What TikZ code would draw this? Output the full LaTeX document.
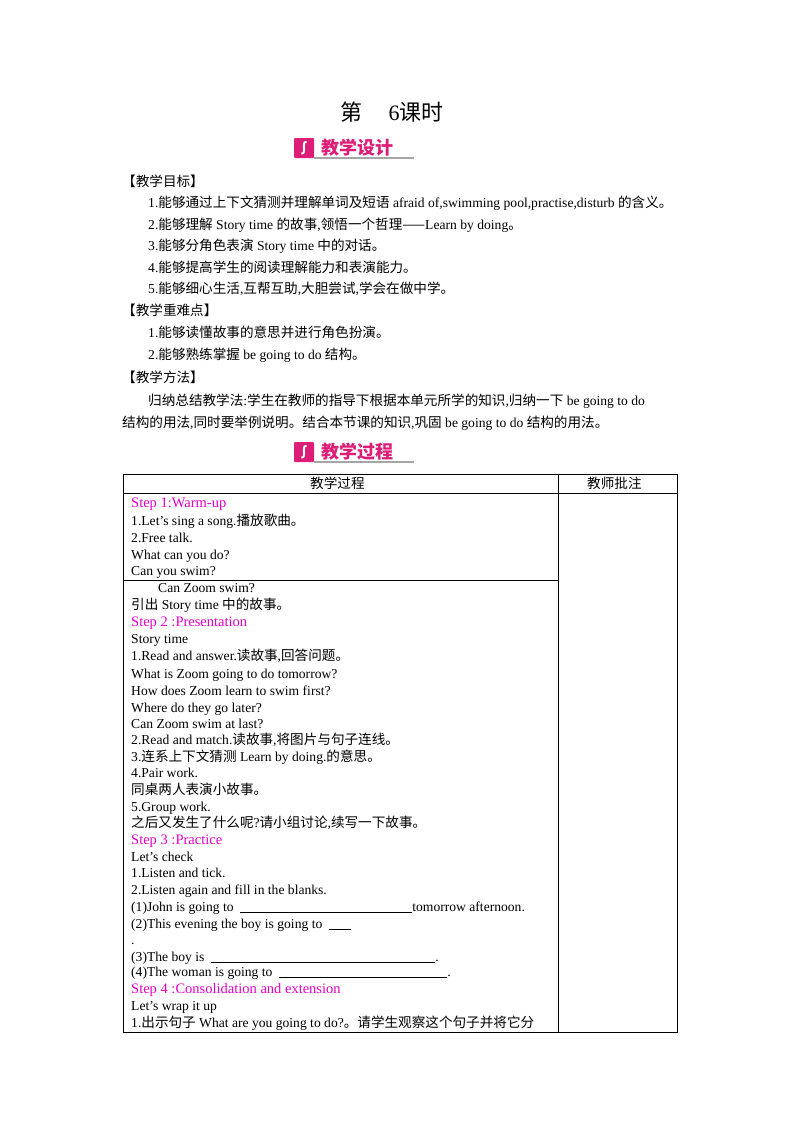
\documentclass[tikz,border=0pt]{standalone}
\usepackage{fontspec}
\setmainfont{Liberation Serif}
\newfontfamily\cjk{Noto Sans CJK SC}
\XeTeXinterchartokenstate=1
\newXeTeXintercharclass\cjkclass
\count255="4E00 \loop\XeTeXcharclass\count255=\cjkclass\advance\count255 1 \ifnum\count255<"A000 \repeat
\count255="3000 \loop\XeTeXcharclass\count255=\cjkclass\advance\count255 1 \ifnum\count255<"3040 \repeat
\count255="FF00 \loop\XeTeXcharclass\count255=\cjkclass\advance\count255 1 \ifnum\count255<"FFF0 \repeat
\XeTeXcharclass"2014=\cjkclass
\XeTeXinterchartoks 0 \cjkclass={\cjk}
\XeTeXinterchartoks 4095 \cjkclass={\cjk}
\XeTeXinterchartoks \cjkclass 0={\rmfamily}
\XeTeXinterchartoks \cjkclass 4095={\rmfamily}
\definecolor{mag}{RGB}{230,0,200}
\definecolor{badge}{RGB}{220,30,120}
\begin{document}
\begin{tikzpicture}[x=1pt,y=-1pt,
  t/.style={anchor=base west,inner sep=0pt,font=\fontsize{13.6}{15}\selectfont,yshift=-4.5pt},
  s/.style={t,text=mag,font=\fontsize{14.5}{16}\selectfont},
  tb/.style={draw,line width=0.8pt}]
\useasboundingbox[fill=white] (0,0) rectangle (800,1132);
\node[inner sep=0pt,font=\fontsize{22}{24}\selectfont] (title) at (392,112) {第\hspace{1.2em}6课时};
% badges
\foreach \yy/\txt/\nm in {148/教学设计/b1,452/教学过程/b2}{
  \fill[badge,rounded corners=1pt] (294,\yy-10) rectangle (314,\yy+10);
  \node[text=white,font=\bfseries\fontsize{14}{14}\selectfont,inner sep=0pt] at (304,\yy) {\cjk ∫};
  \node[anchor=west,inner sep=0pt,text=badge,font=\cjk\bfseries\fontsize{18}{18}\selectfont] (\nm) at (321,\yy) {\txt};
  \draw[gray!70,line width=1.2pt] (314,\yy+10) -- (414,\yy+10);
}
\node[t] (h1) at (122,182) {【教学目标】};
\node[t] (a1) at (148,203) {1.能够通过上下文猜测并理解单词及短语 afraid of,swimming pool,practise,disturb 的含义。};
\node[t] (a2) at (148,225) {2.能够理解 Story time 的故事,领悟一个哲理——Learn by doing。};
\node[t] (a3) at (148,246) {3.能够分角色表演 Story time 中的对话。};
\node[t] (a4) at (148,268) {4.能够提高学生的阅读理解能力和表演能力。};
\node[t] (a5) at (148,289) {5.能够细心生活,互帮互助,大胆尝试,学会在做中学。};
\node[t] (h2) at (122,311) {【教学重难点】};
\node[t] (b1l) at (148,333) {1.能够读懂故事的意思并进行角色扮演。};
\node[t] (b2l) at (148,355) {2.能够熟练掌握 be going to do 结构。};
\node[t] (h3) at (122,378) {【教学方法】};
\node[t] (c1) at (148,401) {归纳总结教学法:学生在教师的指导下根据本单元所学的知识,归纳一下 be going to do};
\node[t] (c2) at (122,423) {结构的用法,同时要举例说明。结合本节课的知识,巩固 be going to do 结构的用法。};
% table
\draw[tb] (123,474) rectangle (677,1032);
\draw[tb] (558,474) -- (558,1032);
\draw[tb] (123,493) -- (677,493);
\draw[tb] (123,580) -- (558,580);
\node[t] (th1) at (310,484) {教学过程};
\node[t] (th2) at (587,484) {教师批注};
\node[s] at (131,503) {Step 1:Warm-up};
\node[t] at (131,521) {1.Let's sing a song.播放歌曲。};
\node[t] at (131,538) {2.Free talk.};
\node[t] at (131,555) {What can you do?};
\node[t] at (131,571) {Can you swim?};
\node[t] at (158,588) {Can Zoom swim?};
\node[t] at (131,605) {引出 Story time 中的故事。};
\node[s] at (131,622) {Step 2 :Presentation};
\node[t] at (131,639) {Story time};
\node[t] at (131,656) {1.Read and answer.读故事,回答问题。};
\node[t] at (131,674) {What is Zoom going to do tomorrow?};
\node[t] at (131,691) {How does Zoom learn to swim first?};
\node[t] at (131,708) {Where do they go later?};
\node[t] at (131,724) {Can Zoom swim at last?};
\node[t] at (131,740) {2.Read and match.读故事,将图片与句子连线。};
\node[t] at (131,757) {3.连系上下文猜测 Learn by doing.的意思。};
\node[t] at (131,773) {4.Pair work.};
\node[t] at (131,790) {同桌两人表演小故事。};
\node[t] at (131,807) {5.Group work.};
\node[t] at (131,823) {之后又发生了什么呢?请小组讨论,续写一下故事。};
\node[s] at (131,840) {Step 3 :Practice};
\node[t] at (131,857) {Let's check};
\node[t] at (131,873) {1.Listen and tick.};
\node[t] at (131,890) {2.Listen again and fill in the blanks.};
\node[t] at (131,907) {(1)John is going to \ \rule[-1.5pt]{172pt}{0.6pt}tomorrow afternoon.};
\node[t] at (131,924) {(2)This evening the boy is going to \ \rule[-1.5pt]{22pt}{0.6pt}};
\node[t] at (131,940) {.};
\node[t] at (131,957) {(3)The boy is \ \rule[-1.5pt]{224pt}{0.6pt}.};
\node[t] at (131,972) {(4)The woman is going to \ \rule[-1.5pt]{168pt}{0.6pt}.};
\node[s] at (131,989) {Step 4 :Consolidation and extension};
\node[t] at (131,1006) {Let's wrap it up};
\node[t] at (131,1023) {1.出示句子 What are you going to do?。请学生观察这个句子并将它分};
\end{tikzpicture}
\end{document}
